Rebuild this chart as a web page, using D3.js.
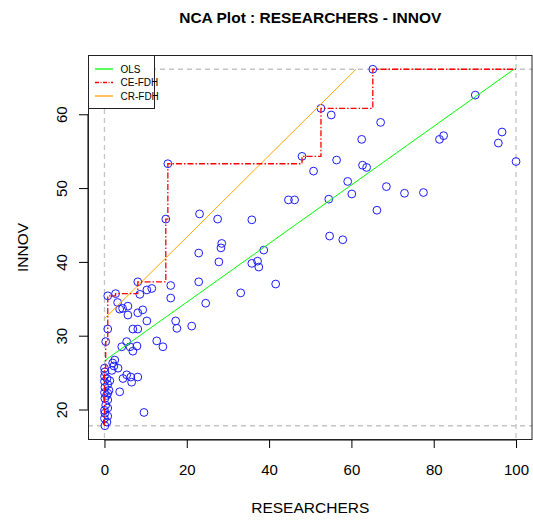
<!DOCTYPE html>
<html><head><meta charset="utf-8">
<script src="https://cdn.jsdelivr.net/npm/d3@7"></script>
<style>
body{margin:0;background:#fff}
text{font-family:Arial,"Liberation Sans",sans-serif;fill:#000}
</style>
</head><body>
<svg id="c" width="533" height="520"></svg>
<script>
const researchers = [65.2,90.1,52.6,55.1,67.1,62.5,81.4,82.4,96.6,95.7,100,48.0,15.4,56.4,62.7,63.7,50.8,59.1,60.1,68.5,72.9,77.5,54.5,44.7,46.2,66.2,23.1,27.5,35.8,14.9,54.7,57.9,28.5,28.3,22.9,38.7,27.8,35.8,37.2,37.5,22.9,41.6,8.1,16.1,10.3,11.5,2.7,0.8,8.6,16.1,33.1,3.2,24.6,3.7,4.4,5.7,5.7,8.1,9.3,10.3,17.3,17.6,21.2,6.9,8.1,0.8,12.7,14.2,0.3,5.4,4.2,6.2,7.9,6.9,2.5,2.0,2.3,1.8,3.3,5.4,6.4,4.5,8.1,6.6,3.7,9.6,
  0.0,0.1,0.0,0.6,0.0,0.8,0.1,1.1,0.0,0.8,0.1,0.8,0.3,0.8,0.0,0.1,0.8,0.0,0.6,0.1,1.3,0.5];
const innov = [66.1,62.6,60.8,59.9,58.9,56.6,56.6,57.1,57.6,56.1,53.6,54.3,53.3,53.8,53.1,52.8,52.3,50.9,49.2,50.2,49.3,49.4,48.5,48.4,48.4,47.0,46.5,45.8,45.7,45.8,43.5,43.0,42.5,41.9,41.2,41.6,40.0,39.8,40.1,39.3,37.3,37.0,37.3,36.8,36.2,36.4,35.7,35.4,35.6,35.1,35.8,34.5,34.4,33.6,33.7,34.0,32.8,33.1,33.5,32.0,32.0,31.0,31.3,30.9,30.9,30.9,29.3,28.5,29.2,29.2,28.5,28.5,28.6,27.9,26.7,26.3,25.9,25.3,25.6,24.7,24.4,24.2,24.4,23.7,22.4,19.6,
  25.6,25.1,24.5,24.2,23.8,23.4,23.0,22.6,22.3,22.2,21.5,21.3,20.6,20.2,19.9,19.5,19.1,18.8,18.3,17.8,23.9,21.9];
const xTicks = [0,20,40,60,80,100];
const yTicks = [20,30,40,50,60];
const olsLine = [26.6, 0.397];     // intercept, slope
const crFdhLine = [32.3, 0.553];   // intercept, slope
const legendLabels = ["OLS","CE-FDH","CR-FDH"];
const legendColors = ["#00ff00","#ff0000","#ffa500"];
const titleText = "NCA Plot : RESEARCHERS - INNOV";
const xLabel = "RESEARCHERS", yLabel = "INNOV";

const svg = d3.select("#c");
const L = 88, R = 532.5, T = 55, B = 440;
const pts = researchers.map((d,i)=>({x:d,y:innov[i]}));
const xe = d3.extent(researchers), ye = d3.extent(innov);
const xp = (xe[1]-xe[0])*0.04, yp = (ye[1]-ye[0])*0.04;
const x = d3.scaleLinear().domain([xe[0]-xp, xe[1]+xp]).range([L,R]);
const y = d3.scaleLinear().domain([ye[0]-yp, ye[1]+yp]).range([B,T]);

// title
svg.append("text").attr("x",(L+R)/2).attr("y",23).attr("text-anchor","middle")
  .style("font-weight","bold").style("font-size","15.5px").text(titleText);

// axes
const xa = svg.append("g").attr("transform",`translate(0,${B})`)
  .call(d3.axisBottom(x).tickValues(xTicks).tickSize(8).tickSizeOuter(0));
xa.select(".domain").remove();
xa.append("line").attr("x1",x(xTicks[0])).attr("x2",x(xTicks[xTicks.length-1])).attr("stroke","#000");
xa.selectAll("text").attr("y",35).attr("dy",0).style("font-size","15px").attr("fill","#000").style("font-family","Arial,'Liberation Sans',sans-serif");

const ya = svg.append("g").attr("transform",`translate(${L},0)`)
  .call(d3.axisLeft(y).tickValues(yTicks).tickSize(9).tickSizeOuter(0));
ya.select(".domain").remove();
ya.append("line").attr("y1",y(yTicks[0])).attr("y2",y(yTicks[yTicks.length-1])).attr("stroke","#000");
ya.selectAll("text").attr("x",0).attr("y",0).attr("dy",0)
  .attr("transform","translate(-21.5,0) rotate(-90)").attr("text-anchor","middle")
  .style("font-size","15px").attr("fill","#000").style("font-family","Arial,'Liberation Sans',sans-serif");

// axis labels
svg.append("text").attr("x",(L+R)/2).attr("y",513).attr("text-anchor","middle").style("font-size","15.5px").text(xLabel);
svg.append("text").attr("transform",`translate(28,${(T+B)/2}) rotate(-90)`).attr("text-anchor","middle").style("font-size","15.5px").text(yLabel);

// scope dashed lines
const dashG = svg.append("g").attr("stroke","#c4c4c4").attr("stroke-width",1.3).attr("stroke-dasharray","5,4");
[xe[0],xe[1]].forEach(v=>dashG.append("line").attr("x1",x(v)).attr("x2",x(v)).attr("y1",T).attr("y2",B));
[ye[0],ye[1]].forEach(v=>dashG.append("line").attr("y1",y(v)).attr("y2",y(v)).attr("x1",L).attr("x2",R));

// points
svg.append("g").selectAll("circle").data(pts).join("circle")
  .attr("cx",d=>x(d.x)).attr("cy",d=>y(d.y)).attr("r",3.9)
  .attr("fill","none").attr("stroke","#1a1aff").attr("stroke-width",1);

// OLS
const olsEnd = Math.min(xe[1], (ye[1]-olsLine[0])/olsLine[1]);
svg.append("line").attr("x1",x(xe[0])).attr("y1",y(olsLine[0]+olsLine[1]*xe[0]))
  .attr("x2",x(olsEnd)).attr("y2",y(olsLine[0]+olsLine[1]*olsEnd))
  .attr("stroke","#00ff00").attr("stroke-width",1);

// CR-FDH
const crEnd = Math.min(xe[1], (ye[1]-crFdhLine[0])/crFdhLine[1]);
svg.append("line").attr("x1",x(xe[0])).attr("y1",y(crFdhLine[0]+crFdhLine[1]*xe[0]))
  .attr("x2",x(crEnd)).attr("y2",y(crFdhLine[0]+crFdhLine[1]*crEnd))
  .attr("stroke","#ffa500").attr("stroke-width",1);

// CE-FDH step line through peers
const sorted = pts.slice().sort((a,b)=>a.x-b.x || b.y-a.y);
const peers = []; let cm = -Infinity;
sorted.forEach(p=>{ if (p.y>cm){ peers.push(p); cm=p.y; } });
let dpath = `M${x(peers[0].x)},${y(ye[0])}`;
peers.forEach((p,i)=>{
  if (i>0) dpath += `H${x(p.x)}`;
  dpath += `V${y(p.y)}`;
});
dpath += `H${x(xe[1])}`;
svg.append("path").attr("d",dpath).attr("fill","none").attr("stroke","#ff0000")
  .attr("stroke-width",1.3).attr("stroke-dasharray","6,2,1.5,2");

// plot box
svg.append("rect").attr("x",L+0.5).attr("y",T+0.5).attr("width",R-L-1).attr("height",B-T-1)
  .attr("fill","none").attr("stroke","#222");

// legend
const lg = svg.append("g");
lg.append("rect").attr("x",L+0.5).attr("y",T+0.5).attr("width",66).attr("height",53)
  .attr("fill","#fff").attr("stroke","#222");
legendLabels.forEach((lab,i)=>{
  const yy = T + 14 + i*13.5;
  lg.append("line").attr("x1",95).attr("x2",113).attr("y1",yy).attr("y2",yy)
    .attr("stroke",legendColors[i]).attr("stroke-width",1.3)
    .attr("stroke-dasharray", i===1 ? "4,1.5,1,1.5" : null);
  lg.append("text").attr("x",120.5).attr("y",yy+3.5).style("font-size","10px").text(lab);
});
</script>
</body></html>
